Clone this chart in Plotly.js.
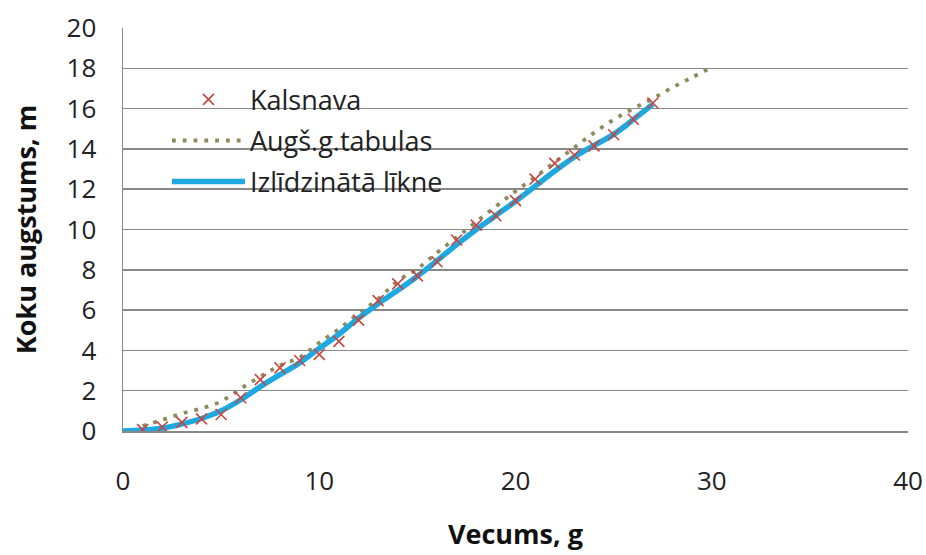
<!DOCTYPE html>
<html>
<head>
<meta charset="utf-8">
<script src="https://cdn.plot.ly/plotly-3.0.1.min.js"></script>
<style>html,body{margin:0;padding:0;background:#fff;}#chart{width:926px;height:555px;}</style>
</head>
<body>
<div id="chart"></div>
<script>
// Kalsnava measurements
const kalsnavaAge = [1,2,3,4,5,6,7,8,9,10,11,12,13,14,15,16,17,18,19,20,21,22,23,24,25,26,27];
const kalsnavaHeight = [0.07,0.2,0.43,0.6,0.82,1.65,2.55,3.13,3.5,3.8,4.45,5.5,6.47,7.3,7.7,8.4,9.48,10.22,10.68,11.43,12.5,13.28,13.7,14.15,14.7,15.47,16.28];

// Augš.g.tabulas
const tableAge = [1,2,3,4,5,6,7,8,9,10,11,12,13,14,15,16,17,18,19,20,21,22,23,24,25,26,27,28,29,30];
const tableHeight = [0.25,0.55,0.87,1.12,1.47,2.1,2.7,3.25,3.65,4.38,5.06,5.82,6.55,7.45,8.05,8.85,9.6,10.38,11.15,11.9,12.6,13.35,14.07,14.8,15.45,16.0,16.5,17.05,17.55,18.05];

// Izlīdzinātā līkne
const smoothAge = [0,1,2,3,4,5,6,7,8,9,10,11,12,13,14,15,16,17,18,19,20,21,22,23,24,25,26,27];
const smoothHeight = [0,0.05,0.14,0.35,0.62,1.0,1.55,2.2,2.8,3.38,4.1,4.8,5.6,6.32,6.98,7.68,8.45,9.25,10.0,10.7,11.4,12.15,12.9,13.6,14.17,14.72,15.45,16.22];

const xTicks = [0,10,20,30,40];
const yTicks = [0,2,4,6,8,10,12,14,16,18,20];

const names = ['Kalsnava', 'Augš.g.tabulas', 'Izlīdzinātā līkne'];

const traces = [
  {
    x: tableAge, y: tableHeight, type: 'scatter', mode: 'lines', name: names[1],
    line: {color: '#8f8a5e', width: 3.8, dash: '3.8px,7px', shape: 'spline'},
    legendrank: 2, legendgroup: 'b'
  },
  {
    x: smoothAge, y: smoothHeight, type: 'scatter', mode: 'lines', name: names[2],
    line: {color: '#1ea8e0', width: 5.5, shape: 'spline'},
    legendrank: 3, legendgroup: 'c'
  },
  {
    x: kalsnavaAge, y: kalsnavaHeight, type: 'scatter', mode: 'markers', name: names[0],
    marker: {symbol: 'x-thin-open', size: 11, line: {color: '#c8453f', width: 1.6}, color: '#c8453f'},
    legendrank: 1, legendgroup: 'a'
  }
];

const layout = {
  width: 926, height: 555,
  margin: {l: 123, r: 18, t: 28, b: 124},
  paper_bgcolor: '#fff', plot_bgcolor: '#fff',
  font: {family: '"Open Sans", Lato, sans-serif', size: 26, color: '#222'},
  showlegend: true,
  legend: {
    x: 0.056, y: 0.72, xanchor: 'left', yanchor: 'middle',
    bgcolor: 'rgba(0,0,0,0)', borderwidth: 0,
    font: {family: '"Open Sans", sans-serif', size: 27, color: '#222'},
    traceorder: 'grouped', tracegroupgap: 3, itemwidth: 73
  },
  xaxis: {
    range: [0, 40], tickvals: xTicks, ticktext: xTicks.map(String),
    showgrid: false, zeroline: false, showline: true, linecolor: '#888', linewidth: 1.5,
    ticks: '', ticklabelstandoff: 26,
    tickfont: {size: 26, color: '#222'},
    title: {text: '<b>Vecums, g</b>', font: {size: 27, color: '#111'}, standoff: 28}
  },
  yaxis: {
    range: [0, 20], tickvals: yTicks, ticktext: yTicks.map(String),
    showgrid: true, gridcolor: '#888', gridwidth: 1.5,
    zeroline: false, showline: true, linecolor: '#888', linewidth: 1.5,
    ticks: '', ticklabelstandoff: 20,
    tickfont: {size: 26, color: '#222'},
    title: {text: '<b>Koku augstums, m</b>', font: {size: 27, color: '#111'}, standoff: 22}
  }
};

Plotly.newPlot('chart', traces, layout, {staticPlot: true, displayModeBar: false});
</script>
</body>
</html>
